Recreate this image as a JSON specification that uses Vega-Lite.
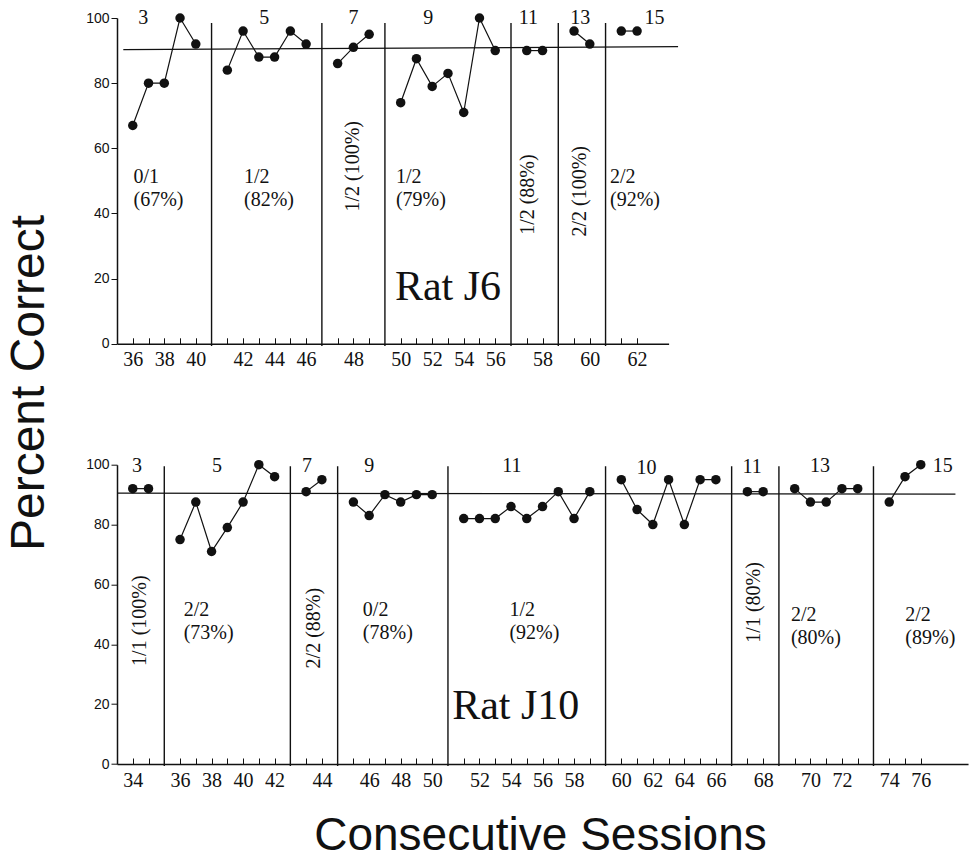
{
  "$schema": "https://vega.github.io/schema/vega-lite/v6.json",
  "padding": {"left": 5, "top": 7, "right": 0, "bottom": 0},
  "background": "white",
  "bounds": "flush",
  "spacing": 120.7,
  "config": {"view": {"stroke": null}},
  "vconcat": [
    {
      "width": 551.6,
      "height": 325.8,
      "encoding": {
        "x": {"field": "session", "type": "quantitative",
          "scale": {"type": "linear", "zero": false, "nice": false,
            "domain": [35, 40, 41, 46, 47, 49, 50, 56, 57, 58, 59, 60, 61, 64],
            "range": [0, 78.8, 110.32, 189.12, 220.64, 252.16, 283.68, 378.24, 409.76, 425.52, 457.04, 472.8, 504.32, 551.6]},
          "axis": {"values": [36,37,38,39,40,41,42,43,44,45,46,47,48,49,50,51,52,53,54,55,56,57,58,59,60,61,62],
            "title": null, "labelExpr": "datum.value % 2 === 0 ? datum.label : ''",
            "tickSize": -6, "labelPadding": 12, "grid": false, "ticks": true,
            "domainColor": "#111", "domainWidth": 1.5, "tickColor": "#111", "tickWidth": 1,
            "labelFont": "Liberation Serif", "labelFontSize": 20, "labelColor": "#111",
            "labelFlush": false, "labelOverlap": false, "labelBound": false}},
        "y": {"field": "pct", "type": "quantitative",
          "scale": {"domain": [0, 100], "nice": false, "zero": false},
          "axis": {"values": [0, 20, 40, 60, 80, 100], "tickSize": 6, "labelPadding": 2, "grid": false,
            "labelFont": "Liberation Sans", "labelFontSize": 14, "labelColor": "#111",
            "domainColor": "#111", "domainWidth": 1.5, "tickColor": "#111",
            "title": "Percent Correct", "titleFont": "Liberation Sans", "titleFontSize": 48,
            "titleFontWeight": "normal", "titleColor": "#111", "titleAngle": 270,
            "titleX": -74, "titleY": 364.5, "titleAlign": "center", "titleBaseline": "alphabetic"}}
      },
      "layer": [
        {
          "data": {"values": [
            {"session": 40.5, "pct": 98.5, "pct2": -0.7},
            {"session": 46.5, "pct": 98.5, "pct2": -0.7},
            {"session": 49.5, "pct": 98.5, "pct2": -0.7},
            {"session": 56.5, "pct": 98.5, "pct2": -0.7},
            {"session": 58.5, "pct": 98.5, "pct2": -0.7},
            {"session": 60.5, "pct": 98.5, "pct2": -0.7}
          ]},
          "mark": {"type": "rule", "color": "#111", "strokeWidth": 1.4},
          "encoding": {"y2": {"field": "pct2"}}
        },
        {
          "data": {"values": [{"session": 35.4, "session2": 64.6, "pct": 90.3, "pct2": 91.2}]},
          "mark": {"type": "rule", "color": "#111", "strokeWidth": 1.2},
          "encoding": {"x2": {"field": "session2"}, "y2": {"field": "pct2"}}
        },
        {
          "data": {"name": "j6", "values": [
            {"session": 36, "pct": 67, "block": 1},
            {"session": 37, "pct": 80, "block": 1},
            {"session": 38, "pct": 80, "block": 1},
            {"session": 39, "pct": 100, "block": 1},
            {"session": 40, "pct": 92, "block": 1},
            {"session": 41, "pct": 84, "block": 2},
            {"session": 42, "pct": 96, "block": 2},
            {"session": 43, "pct": 88, "block": 2},
            {"session": 44, "pct": 88, "block": 2},
            {"session": 45, "pct": 96, "block": 2},
            {"session": 46, "pct": 92, "block": 2},
            {"session": 47, "pct": 86, "block": 3},
            {"session": 48, "pct": 91, "block": 3},
            {"session": 49, "pct": 95, "block": 3},
            {"session": 50, "pct": 74, "block": 4},
            {"session": 51, "pct": 87.5, "block": 4},
            {"session": 52, "pct": 79, "block": 4},
            {"session": 53, "pct": 83, "block": 4},
            {"session": 54, "pct": 71, "block": 4},
            {"session": 55, "pct": 100, "block": 4},
            {"session": 56, "pct": 90, "block": 4},
            {"session": 57, "pct": 90, "block": 5},
            {"session": 58, "pct": 90, "block": 5},
            {"session": 59, "pct": 96, "block": 6},
            {"session": 60, "pct": 92, "block": 6},
            {"session": 61, "pct": 96, "block": 7},
            {"session": 62, "pct": 96, "block": 7}
          ]},
          "layer": [
            {"mark": {"type": "line", "color": "#111", "strokeWidth": 1.2}, "encoding": {"detail": {"field": "block", "type": "nominal"}}},
            {"mark": {"type": "circle", "color": "#111", "size": 90, "opacity": 1}}
          ]
        },
        {
          "data": {"values": [
            {"session": 36.67, "pct": 98.2, "label": "3"},
            {"session": 43.35, "pct": 98.2, "label": "5"},
            {"session": 48.0, "pct": 98.2, "label": "7"},
            {"session": 51.75, "pct": 98.2, "label": "9"},
            {"session": 57.1, "pct": 98.2, "label": "11"},
            {"session": 59.4, "pct": 98.2, "label": "13"},
            {"session": 63.1, "pct": 98.2, "label": "15"}
          ]},
          "mark": {"type": "text", "font": "Liberation Serif", "fontSize": 20, "color": "#111", "align": "center", "baseline": "alphabetic"},
          "encoding": {"text": {"field": "label", "type": "nominal"}}
        },
        {
          "data": {"values": [
            {"session": 36.05, "pct": 49.3, "label": ["0/1", "(67%)"]},
            {"session": 42.06, "pct": 49.3, "label": ["1/2", "(82%)"]},
            {"session": 49.85, "pct": 49.3, "label": ["1/2", "(79%)"]},
            {"session": 60.64, "pct": 49.3, "label": ["2/2", "(92%)"]}
          ]},
          "mark": {"type": "text", "font": "Liberation Serif", "fontSize": 20, "color": "#111", "align": "left", "baseline": "alphabetic", "lineHeight": 23},
          "encoding": {"text": {"field": "label", "type": "nominal"}}
        },
        {
          "data": {"values": [
            {"session": 48.0, "pct": 54.5, "label": "1/2 (100%)"},
            {"session": 57.1, "pct": 45.8, "label": "1/2 (88%)"},
            {"session": 59.35, "pct": 46.8, "label": "2/2 (100%)"}
          ]},
          "mark": {"type": "text", "font": "Liberation Serif", "fontSize": 20, "color": "#111", "align": "center", "baseline": "middle", "angle": 270},
          "encoding": {"text": {"field": "label", "type": "nominal"}}
        },
        {
          "data": {"values": [{"session": 53, "pct": 13.3, "label": "Rat J6"}]},
          "mark": {"type": "text", "font": "Liberation Serif", "fontSize": 42, "color": "#111", "align": "center", "baseline": "alphabetic"},
          "encoding": {"text": {"field": "label", "type": "nominal"}}
        }
      ]
    },
    {
      "width": 851.04,
      "height": 299.3,
      "encoding": {
        "x": {"field": "session", "type": "quantitative",
          "scale": {"type": "linear", "zero": false, "nice": false,
            "domain": [33, 35, 36, 42, 43, 44, 45, 50, 51, 59, 60, 66, 67, 68, 69, 73, 74, 79],
            "range": [0, 31.52, 63.04, 157.6, 189.12, 204.88, 236.4, 315.2, 346.72, 472.8, 504.32, 598.88, 630.4, 646.16, 677.68, 740.72, 772.24, 851.04]},
          "axis": {"values": [34,35,36,37,38,39,40,41,42,43,44,45,46,47,48,49,50,51,52,53,54,55,56,57,58,59,60,61,62,63,64,65,66,67,68,69,70,71,72,73,74,75,76],
            "title": "Consecutive Sessions", "titleFont": "Liberation Sans", "titleFontSize": 46,
            "titleFontWeight": "normal", "titleColor": "#111", "titleX": 423, "titleY": 85,
            "titleAlign": "center", "titleBaseline": "alphabetic", "titleAngle": 0,
            "labelExpr": "datum.value % 2 === 0 ? datum.label : ''",
            "tickSize": -6, "labelPadding": 12, "grid": false, "ticks": true,
            "domainColor": "#111", "domainWidth": 1.5, "tickColor": "#111", "tickWidth": 1,
            "labelFont": "Liberation Serif", "labelFontSize": 20, "labelColor": "#111",
            "labelFlush": false, "labelOverlap": false, "labelBound": false}},
        "y": {"field": "pct", "type": "quantitative",
          "scale": {"domain": [0, 100], "nice": false, "zero": false},
          "axis": {"values": [0, 20, 40, 60, 80, 100], "tickSize": 6, "labelPadding": 2, "grid": false,
            "labelFont": "Liberation Sans", "labelFontSize": 14, "labelColor": "#111",
            "domainColor": "#111", "domainWidth": 1.5, "tickColor": "#111", "title": null}}
      },
      "layer": [
        {
          "data": {"values": [
            {"session": 35.5, "pct": 99.5, "pct2": -0.7},
            {"session": 42.5, "pct": 99.5, "pct2": -0.7},
            {"session": 44.5, "pct": 99.5, "pct2": -0.7},
            {"session": 50.5, "pct": 99.5, "pct2": -0.7},
            {"session": 59.5, "pct": 99.5, "pct2": -0.7},
            {"session": 66.5, "pct": 99.5, "pct2": -0.7},
            {"session": 68.5, "pct": 99.5, "pct2": -0.7},
            {"session": 73.5, "pct": 99.5, "pct2": -0.7}
          ]},
          "mark": {"type": "rule", "color": "#111", "strokeWidth": 1.4},
          "encoding": {"y2": {"field": "pct2"}}
        },
        {
          "data": {"values": [{"session": 33, "session2": 78.2, "pct": 90.5, "pct2": 90.2}]},
          "mark": {"type": "rule", "color": "#111", "strokeWidth": 1.2},
          "encoding": {"x2": {"field": "session2"}, "y2": {"field": "pct2"}}
        },
        {
          "data": {"name": "j10", "values": [
            {"session": 34, "pct": 92, "block": 1},
            {"session": 35, "pct": 92, "block": 1},
            {"session": 36, "pct": 75, "block": 2},
            {"session": 37, "pct": 87.5, "block": 2},
            {"session": 38, "pct": 71, "block": 2},
            {"session": 39, "pct": 79, "block": 2},
            {"session": 40, "pct": 87.5, "block": 2},
            {"session": 41, "pct": 100, "block": 2},
            {"session": 42, "pct": 96, "block": 2},
            {"session": 43, "pct": 91, "block": 3},
            {"session": 44, "pct": 95, "block": 3},
            {"session": 45, "pct": 87.5, "block": 4},
            {"session": 46, "pct": 83, "block": 4},
            {"session": 47, "pct": 90, "block": 4},
            {"session": 48, "pct": 87.5, "block": 4},
            {"session": 49, "pct": 90, "block": 4},
            {"session": 50, "pct": 90, "block": 4},
            {"session": 51, "pct": 82, "block": 5},
            {"session": 52, "pct": 82, "block": 5},
            {"session": 53, "pct": 82, "block": 5},
            {"session": 54, "pct": 86, "block": 5},
            {"session": 55, "pct": 82, "block": 5},
            {"session": 56, "pct": 86, "block": 5},
            {"session": 57, "pct": 91, "block": 5},
            {"session": 58, "pct": 82, "block": 5},
            {"session": 59, "pct": 91, "block": 5},
            {"session": 60, "pct": 95, "block": 6},
            {"session": 61, "pct": 85, "block": 6},
            {"session": 62, "pct": 80, "block": 6},
            {"session": 63, "pct": 95, "block": 6},
            {"session": 64, "pct": 80, "block": 6},
            {"session": 65, "pct": 95, "block": 6},
            {"session": 66, "pct": 95, "block": 6},
            {"session": 67, "pct": 91, "block": 7},
            {"session": 68, "pct": 91, "block": 7},
            {"session": 69, "pct": 92, "block": 8},
            {"session": 70, "pct": 87.5, "block": 8},
            {"session": 71, "pct": 87.5, "block": 8},
            {"session": 72, "pct": 92, "block": 8},
            {"session": 73, "pct": 92, "block": 8},
            {"session": 74, "pct": 87.5, "block": 9},
            {"session": 75, "pct": 96, "block": 9},
            {"session": 76, "pct": 100, "block": 9}
          ]},
          "layer": [
            {"mark": {"type": "line", "color": "#111", "strokeWidth": 1.2}, "encoding": {"detail": {"field": "block", "type": "nominal"}}},
            {"mark": {"type": "circle", "color": "#111", "size": 90, "opacity": 1}}
          ]
        },
        {
          "data": {"values": [
            {"session": 34.27, "pct": 97.6, "label": "3"},
            {"session": 38.34, "pct": 97.6, "label": "5"},
            {"session": 43.05, "pct": 97.6, "label": "7"},
            {"session": 46.0, "pct": 97.6, "label": "9"},
            {"session": 54.05, "pct": 97.6, "label": "11"},
            {"session": 61.6, "pct": 96.9, "label": "10"},
            {"session": 67.3, "pct": 97.3, "label": "11"},
            {"session": 70.6, "pct": 97.6, "label": "13"},
            {"session": 77.4, "pct": 97.6, "label": "15"}
          ]},
          "mark": {"type": "text", "font": "Liberation Serif", "fontSize": 20, "color": "#111", "align": "center", "baseline": "alphabetic"},
          "encoding": {"text": {"field": "label", "type": "nominal"}}
        },
        {
          "data": {"values": [
            {"session": 36.23, "pct": 49.3, "label": ["2/2", "(73%)"]},
            {"session": 45.6, "pct": 49.3, "label": ["0/2", "(78%)"]},
            {"session": 53.9, "pct": 49.3, "label": ["1/2", "(92%)"]},
            {"session": 68.88, "pct": 47.9, "label": ["2/2", "(80%)"]},
            {"session": 75.02, "pct": 47.9, "label": ["2/2", "(89%)"]}
          ]},
          "mark": {"type": "text", "font": "Liberation Serif", "fontSize": 20, "color": "#111", "align": "left", "baseline": "alphabetic", "lineHeight": 23},
          "encoding": {"text": {"field": "label", "type": "nominal"}}
        },
        {
          "data": {"values": [
            {"session": 34.48, "pct": 47.9, "label": "1/1 (100%)"},
            {"session": 43.5, "pct": 45.4, "label": "2/2 (88%)"},
            {"session": 67.4, "pct": 54.0, "label": "1/1 (80%)"}
          ]},
          "mark": {"type": "text", "font": "Liberation Serif", "fontSize": 20, "color": "#111", "align": "center", "baseline": "middle", "angle": 270},
          "encoding": {"text": {"field": "label", "type": "nominal"}}
        },
        {
          "data": {"values": [{"session": 54.3, "pct": 15.2, "label": "Rat J10"}]},
          "mark": {"type": "text", "font": "Liberation Serif", "fontSize": 42, "color": "#111", "align": "center", "baseline": "alphabetic"},
          "encoding": {"text": {"field": "label", "type": "nominal"}}
        }
      ]
    }
  ]
}
